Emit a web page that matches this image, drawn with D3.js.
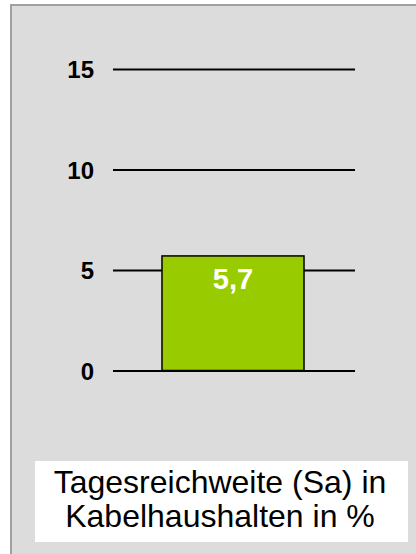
<!DOCTYPE html>
<html>
<head>
<meta charset="utf-8">
<script src="https://cdn.jsdelivr.net/npm/d3@7"></script>
<style>
  body { margin: 0; background: #fff; }
  svg { display: block; }
</style>
</head>
<body>
<svg id="chart"></svg>
<script>
const categories = ['Sa'];
const values = [5.7];
const valueLabels = ['5,7'];
const yTicks = [0, 5, 10, 15];
const titleLines = ['Tagesreichweite (Sa) in', 'Kabelhaushalten in %'];

const width = 416;
const height = 554;
const margin = { top: 69, right: 61, bottom: 184, left: 113 };

const svg = d3.select('#chart')
    .attr('width', width)
    .attr('height', height);

// grey panel
svg.append('rect')
    .attr('x', 11)
    .attr('y', 5)
    .attr('width', width)
    .attr('height', height)
    .attr('fill', '#dcdcdc')
    .attr('stroke', '#a0a0a0')
    .attr('stroke-width', 2);

const chart = svg.append('g')
    .attr('transform', `translate(${margin.left}, ${margin.top})`);

const innerW = width - margin.left - margin.right;
const innerH = height - margin.top - margin.bottom;

const yScale = d3.scaleLinear()
    .domain([0, 15])
    .range([innerH + 0.5, 0]);

const xScale = d3.scaleBand()
    .domain(categories)
    .range([0, innerW])
    .paddingInner(0)
    .paddingOuter(0.352);

const yAxis = d3.axisLeft(yScale)
    .tickValues(yTicks)
    .tickSize(-innerW)
    .tickPadding(19)
    .tickFormat(d => d);

const yAxisG = chart.append('g')
    .call(yAxis);
yAxisG.select('.domain').remove();
yAxisG.selectAll('line')
    .attr('stroke', '#000')
    .attr('stroke-width', 2);
yAxisG.selectAll('text')
    .attr('fill', '#000')
    .attr('dy', '0.36em')
    .style('font-family', 'Liberation Sans, Arial, sans-serif')
    .style('font-size', '24px')
    .style('font-weight', 'bold');

chart.selectAll('.bar')
    .data(values)
    .enter()
    .append('rect')
    .attr('class', 'bar')
    .attr('x', (d, i) => xScale(categories[i]) - 1)
    .attr('y', d => yScale(d))
    .attr('width', xScale.bandwidth())
    .attr('height', d => yScale(0) - yScale(d))
    .attr('fill', '#99cc00')
    .attr('stroke', '#000')
    .attr('stroke-width', 1.5);

chart.selectAll('.bar-label')
    .data(values)
    .enter()
    .append('text')
    .attr('class', 'bar-label')
    .attr('x', (d, i) => xScale(categories[i]) - 1 + xScale.bandwidth() / 2)
    .attr('y', d => yScale(d) + 33)
    .attr('text-anchor', 'middle')
    .attr('fill', '#fff')
    .style('font-family', 'Liberation Sans, Arial, sans-serif')
    .style('font-size', '29px')
    .style('font-weight', 'bold')
    .text((d, i) => valueLabels[i]);

// title box
svg.append('rect')
    .attr('x', 35)
    .attr('y', 461)
    .attr('width', 373)
    .attr('height', 81)
    .attr('fill', '#fff');

svg.append('g')
    .selectAll('text')
    .data(titleLines)
    .enter()
    .append('text')
    .attr('x', 220)
    .attr('y', (d, i) => 493 + i * 34)
    .attr('text-anchor', 'middle')
    .attr('fill', '#000')
    .style('font-family', 'Liberation Sans, Arial, sans-serif')
    .style('font-size', '32px')
    .text(d => d);
</script>
</body>
</html>
